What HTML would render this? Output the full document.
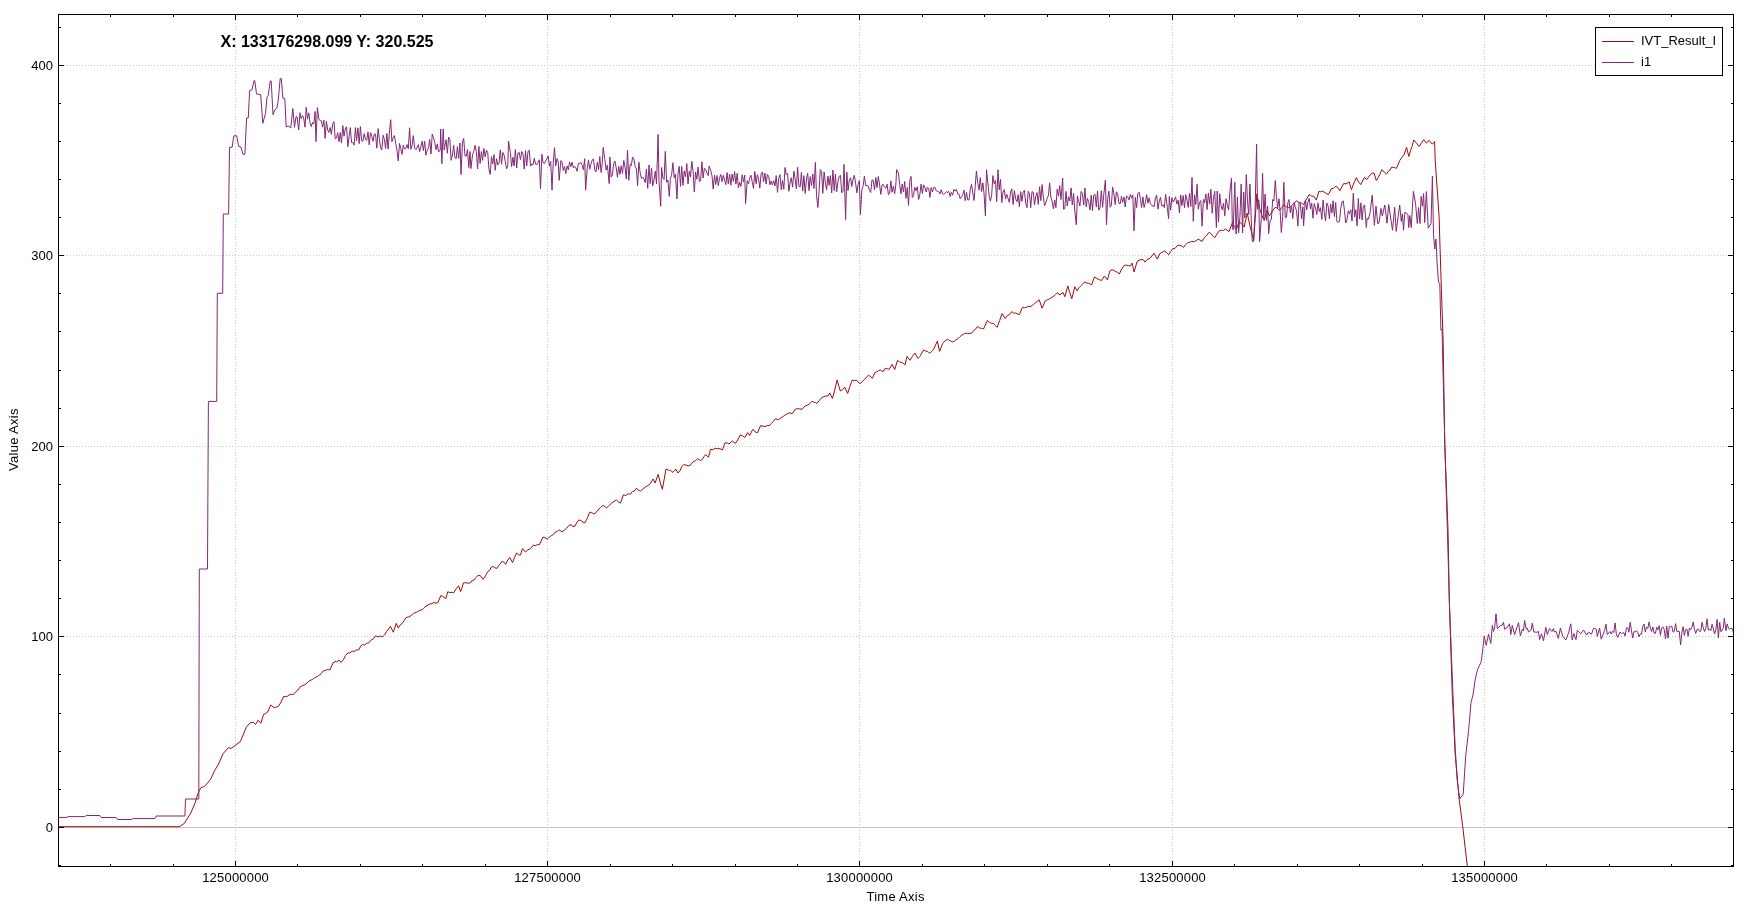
<!DOCTYPE html>
<html><head><meta charset="utf-8"><title>Plot</title>
<style>html,body{margin:0;padding:0;background:#fff;width:1748px;height:910px;overflow:hidden}</style>
</head><body>
<svg width="1748" height="910" viewBox="0 0 1748 910" style="position:absolute;left:0;top:0;will-change:transform">
<defs><clipPath id="c"><rect x="58" y="14" width="1676" height="853"/></clipPath></defs>
<path d="M235.5 867 V14 M547.5 867 V14 M859.5 867 V14 M1172.5 867 V14 M1484.5 867 V14" stroke="#c8c8c8" stroke-width="1" stroke-dasharray="1 2" fill="none" shape-rendering="crispEdges"/>
<path d="M58 636.5 H1734 M58 446.5 H1734 M58 255.5 H1734 M58 65.5 H1734" stroke="#c8c8c8" stroke-width="1" stroke-dasharray="1 2" fill="none" shape-rendering="crispEdges"/>
<path d="M58 827.5 H1734" stroke="#c8c8c8" stroke-width="1" fill="none" shape-rendering="crispEdges"/>
<g clip-path="url(#c)" fill="none" stroke-width="1" stroke-linejoin="miter" stroke-miterlimit="2">
<path d="M56.0 826.7 L179.0 826.7 L180.3 826.1 L184.2 823.5 L190.8 812.9 L194.8 803.7 L198.1 793.1 L200.7 787.9 L204.7 786.3 L210.6 779.3 L214.6 770.7 L218.5 764.1 L223.2 753.5 L228.4 747.6 L231.1 748.5 L235.7 745.0 L240.3 741.7 L246.3 727.2 L250.2 722.8 L253.5 722.5 L255.5 724.5 L258.1 720.3 L260.8 723.2 L263.7 714.3 L265.7 713.4 L267.7 712.0 L270.7 705.0 L273.6 707.4 L275.3 707.4 L276.9 707.0 L278.6 706.0 L281.1 702.0 L283.5 696.5 L285.2 696.6 L286.8 696.6 L288.5 695.5 L290.9 694.2 L293.4 694.5 L295.7 691.8 L298.0 690.0 L300.3 686.6 L302.6 685.6 L305.0 684.7 L307.3 682.7 L309.8 680.5 L312.2 679.6 L314.7 677.7 L317.2 676.7 L319.2 675.2 L321.1 673.7 L323.1 671.1 L325.1 670.4 L327.6 669.6 L330.0 669.8 L333.0 662.9 L335.0 661.5 L336.9 661.7 L338.9 660.0 L341.0 662.5 L343.3 659.8 L345.5 655.6 L347.8 653.0 L350.0 652.9 L352.2 651.1 L354.3 651.4 L356.5 649.9 L358.7 650.0 L360.7 646.0 L362.7 644.4 L364.6 645.2 L366.6 643.3 L368.6 643.1 L370.9 640.2 L373.2 639.1 L375.5 635.8 L377.8 636.8 L380.2 636.1 L382.5 636.8 L384.5 635.0 L386.4 631.6 L388.4 629.2 L390.4 626.3 L393.3 632.2 L396.3 623.3 L398.3 628.0 L400.3 624.8 L402.2 623.5 L404.2 620.4 L406.2 617.4 L408.7 617.0 L411.1 615.6 L413.6 613.3 L416.1 612.4 L418.1 611.3 L420.0 610.1 L422.0 609.9 L424.0 607.8 L426.0 606.1 L428.0 605.0 L430.0 603.9 L432.0 603.7 L433.9 602.3 L435.9 603.2 L437.9 602.5 L440.8 595.6 L442.5 596.3 L444.1 597.3 L445.8 598.6 L447.8 591.7 L449.8 592.6 L451.8 592.3 L453.8 592.6 L456.2 588.8 L458.6 585.7 L460.6 591.7 L463.6 582.8 L465.9 582.8 L468.2 583.2 L470.5 582.8 L472.2 580.3 L473.8 580.3 L475.5 577.8 L477.8 575.7 L480.0 575.3 L483.0 579.3 L485.4 575.8 L487.9 571.4 L489.6 570.4 L491.2 567.2 L492.9 566.4 L494.9 567.9 L496.8 568.4 L498.5 565.9 L500.1 563.9 L501.8 561.5 L503.8 562.1 L505.7 564.4 L507.7 560.1 L509.7 557.5 L512.6 562.5 L514.6 557.2 L516.6 553.0 L518.5 554.8 L520.5 555.0 L522.5 548.6 L525.5 552.2 L527.5 549.9 L529.5 549.1 L531.4 547.6 L533.4 545.0 L535.4 545.7 L537.4 544.5 L539.4 544.7 L542.9 537.1 L545.1 537.8 L547.3 539.1 L549.2 537.4 L551.2 535.7 L553.2 534.7 L555.2 532.0 L557.1 531.7 L559.1 529.8 L562.0 531.8 L564.3 530.2 L566.7 528.1 L569.0 525.3 L571.0 524.7 L573.0 526.6 L575.0 526.0 L577.0 522.2 L578.9 519.9 L580.9 520.6 L582.9 522.1 L584.9 522.9 L587.3 518.2 L589.8 512.0 L591.8 512.7 L593.8 514.0 L596.0 512.6 L598.2 509.8 L600.5 507.3 L602.7 505.5 L604.7 506.4 L606.6 508.0 L609.1 505.4 L611.5 503.3 L614.0 501.4 L616.5 500.1 L618.5 501.9 L620.5 503.1 L623.4 494.8 L625.7 495.5 L628.1 493.8 L630.4 494.2 L632.4 491.4 L634.3 491.1 L636.3 488.3 L638.3 489.8 L640.3 491.2 L642.8 489.2 L645.2 487.0 L647.7 485.7 L650.2 483.7 L653.1 479.0 L655.1 483.0 L658.1 474.4 L660.2 482.4 L662.4 489.3 L664.2 479.1 L666.0 469.1 L668.3 470.1 L670.6 470.5 L672.9 472.4 L675.9 469.1 L677.9 473.0 L679.9 470.9 L681.8 466.5 L683.8 464.5 L686.2 465.2 L688.7 465.9 L690.9 464.7 L693.2 461.6 L695.4 460.8 L697.6 458.6 L700.6 460.6 L702.3 459.4 L703.9 456.8 L705.6 454.6 L708.5 457.2 L710.5 449.3 L712.9 449.7 L715.2 448.3 L717.6 448.7 L720.0 448.7 L722.4 450.0 L725.0 442.9 L727.0 442.8 L729.0 444.0 L732.3 440.9 L735.4 443.5 L737.8 439.8 L740.2 434.9 L742.5 435.8 L744.7 437.5 L747.7 432.6 L749.7 435.5 L752.6 429.6 L754.3 430.5 L755.9 432.5 L757.6 432.6 L760.6 425.6 L762.8 426.2 L765.0 426.5 L767.3 425.5 L769.5 425.6 L771.5 423.3 L773.4 421.4 L775.4 418.7 L778.4 419.7 L780.8 418.0 L783.3 416.3 L785.3 414.8 L787.3 413.8 L789.3 412.8 L792.2 413.8 L795.2 409.2 L797.5 408.6 L799.8 409.0 L802.1 409.2 L805.1 405.9 L807.4 405.2 L809.7 403.7 L812.0 401.3 L813.7 402.2 L815.3 402.6 L817.0 403.3 L819.0 400.9 L820.9 398.4 L822.9 397.0 L825.3 396.1 L827.8 396.0 L829.8 393.0 L832.4 398.5 L834.8 389.8 L837.1 380.1 L840.3 391.0 L842.5 389.7 L844.7 387.1 L847.6 393.4 L849.9 386.5 L852.2 380.1 L854.4 380.6 L856.5 380.1 L858.3 382.3 L860.1 383.5 L862.2 381.8 L864.2 379.6 L866.3 377.7 L868.4 375.2 L870.4 376.5 L872.4 378.2 L875.3 372.2 L877.0 371.9 L878.6 370.5 L880.3 370.2 L883.2 371.6 L885.2 368.3 L887.2 368.8 L889.2 369.3 L892.1 364.3 L894.7 369.6 L897.5 360.3 L899.3 361.7 L901.2 362.4 L903.0 362.9 L905.0 364.9 L907.0 356.4 L910.0 360.3 L912.5 356.3 L914.9 353.0 L917.9 358.4 L919.9 356.4 L921.8 353.0 L923.8 349.9 L925.8 351.2 L927.7 351.4 L929.7 353.4 L931.7 351.3 L933.7 349.1 L937.3 341.2 L939.6 351.4 L942.6 343.5 L945.0 340.9 L947.5 339.2 L949.2 340.4 L950.8 341.0 L952.5 342.0 L954.4 341.2 L956.2 339.6 L958.1 338.5 L960.0 336.6 L961.7 335.1 L963.3 334.5 L965.0 333.0 L967.3 333.4 L969.6 333.6 L971.9 333.0 L973.7 330.5 L975.6 329.2 L977.4 326.4 L979.5 327.9 L981.6 328.3 L983.7 328.8 L987.3 320.5 L989.4 322.4 L991.5 323.3 L993.6 323.5 L995.4 325.5 L997.2 327.4 L999.6 320.6 L1002.0 313.6 L1005.1 318.5 L1007.3 315.6 L1009.6 314.5 L1011.8 311.6 L1013.7 313.1 L1015.6 313.0 L1017.5 314.1 L1019.4 314.5 L1022.3 307.6 L1024.3 307.7 L1026.2 307.5 L1028.2 306.3 L1030.2 306.6 L1032.4 305.4 L1034.7 303.3 L1036.9 301.7 L1039.1 299.7 L1042.1 308.2 L1045.1 301.1 L1047.4 299.7 L1049.7 298.8 L1052.0 297.3 L1053.7 296.3 L1055.3 294.5 L1057.0 292.8 L1059.9 294.8 L1062.9 292.4 L1064.9 296.7 L1067.8 285.9 L1069.8 292.7 L1071.8 298.7 L1074.8 286.8 L1077.1 290.8 L1079.0 287.7 L1080.9 285.7 L1082.8 284.0 L1084.7 281.9 L1087.0 283.2 L1089.3 283.4 L1091.6 284.9 L1094.5 277.0 L1096.8 278.5 L1099.2 279.6 L1101.5 280.5 L1104.4 276.0 L1107.4 279.9 L1110.0 270.6 L1112.2 269.8 L1114.3 270.6 L1116.0 271.7 L1117.6 272.4 L1119.3 274.0 L1121.8 268.9 L1124.2 265.5 L1126.2 265.0 L1128.2 265.6 L1130.2 266.1 L1132.1 263.1 L1134.1 272.0 L1137.1 261.5 L1139.1 260.3 L1141.0 259.6 L1143.0 259.5 L1145.0 262.1 L1147.0 259.6 L1149.0 258.8 L1151.0 257.2 L1153.9 253.2 L1157.3 259.1 L1159.8 253.6 L1161.5 252.5 L1163.1 251.9 L1164.8 250.8 L1166.8 253.0 L1168.7 254.8 L1170.7 251.4 L1172.7 248.9 L1175.0 248.4 L1177.3 245.6 L1179.6 245.3 L1181.6 246.1 L1183.6 247.3 L1185.5 244.7 L1187.5 242.9 L1189.5 242.3 L1191.5 241.4 L1193.5 241.7 L1195.8 241.0 L1198.1 239.2 L1200.0 240.1 L1202.0 241.5 L1204.3 237.6 L1206.6 235.6 L1208.9 232.4 L1210.8 233.4 L1212.8 236.0 L1214.7 237.7 L1217.0 234.0 L1219.3 230.8 L1221.4 230.3 L1223.6 230.4 L1225.7 229.0 L1229.1 231.6 L1232.5 222.5 L1234.4 226.6 L1236.3 229.6 L1239.3 221.5 L1241.8 224.1 L1244.2 227.0 L1247.2 213.1 L1250.4 227.8 L1253.7 240.5 L1256.9 193.8 L1260.0 209.9 L1262.1 215.8 L1264.2 220.5 L1267.1 210.0 L1269.3 215.8 L1271.2 213.3 L1273.1 210.0 L1275.0 207.5 L1276.7 207.7 L1278.3 209.3 L1280.0 210.0 L1282.0 207.4 L1283.9 204.5 L1286.3 206.9 L1288.8 207.7 L1290.8 206.8 L1292.8 204.4 L1294.8 202.3 L1296.8 200.8 L1299.1 202.9 L1301.3 202.7 L1303.6 205.0 L1305.4 200.8 L1307.2 198.2 L1309.0 194.6 L1311.5 196.2 L1313.7 196.2 L1316.3 200.0 L1318.9 191.4 L1320.6 191.8 L1322.3 191.2 L1324.0 192.0 L1326.2 193.5 L1328.4 194.5 L1331.6 188.4 L1333.3 188.4 L1334.9 186.8 L1336.6 186.3 L1339.9 190.7 L1341.8 186.9 L1343.8 183.4 L1346.0 184.0 L1349.2 181.9 L1351.4 189.6 L1353.1 185.1 L1354.7 181.2 L1356.4 177.6 L1358.6 182.0 L1360.8 184.6 L1364.2 177.6 L1366.8 179.5 L1369.2 176.2 L1371.6 173.3 L1374.0 173.0 L1376.3 180.5 L1378.1 177.7 L1380.0 174.0 L1381.8 169.6 L1384.2 172.0 L1386.6 174.0 L1388.3 171.2 L1390.0 170.2 L1391.7 167.0 L1394.1 167.6 L1396.5 168.2 L1399.9 160.2 L1402.0 157.2 L1404.1 154.6 L1406.6 147.4 L1408.8 156.5 L1410.5 150.6 L1412.1 146.3 L1413.8 139.9 L1415.6 142.1 L1417.3 144.0 L1419.1 146.6 L1421.4 143.1 L1423.7 139.6 L1426.4 143.2 L1429.0 140.3 L1432.3 144.2 L1434.6 141.6 L1435.2 160.0 L1439.2 218.2 L1439.8 240.0 L1441.4 289.5 L1443.1 340.0 L1444.8 444.5 L1448.0 530.0 L1449.3 600.0 L1452.3 695.0 L1455.2 754.3 L1459.1 798.8 L1462.6 825.5 L1467.1 864.0 L1469.5 890.0" stroke="#a00a0a"/>
<path d="M56.0 817.4 L67.0 817.4 L68.0 816.6 L84.8 816.6 L86.3 815.5 L99.7 815.5 L101.2 817.5 L116.2 817.5 L117.7 819.5 L131.6 819.5 L133.0 818.6 L154.8 818.6 L156.3 816.0 L184.9 816.0 L185.5 799.0 L198.8 799.0 L199.3 569.0 L207.5 569.0 L208.4 401.4 L216.7 401.4 L217.3 293.3 L222.7 293.3 L223.3 214.0 L228.6 214.0 L229.5 147.3 L232.1 147.3 L233.8 135.8 L236.7 135.8 L238.7 146.4 L240.9 147.0 L243.0 154.3 L244.9 154.3 L246.6 118.0 L248.3 117.8 L249.6 90.6 L251.9 90.1 L254.1 80.4 L254.9 81.0 L256.5 94.0 L260.7 94.6 L262.8 123.3 L265.5 113.4 L267.0 97.0 L268.1 95.6 L270.3 80.8 L271.2 81.0 L273.0 114.7 L274.9 109.8 L276.9 108.1 L278.2 100.9 L280.2 78.5 L281.3 78.7 L282.9 98.2 L284.8 98.5 L286.2 127.0 L288.1 126.0 L290.8 127.9 L292.8 108.5 L294.5 127.3 L296.0 116.7 L297.1 117.0 L298.7 129.9 L300.0 112.7 L301.2 118.7 L302.5 115.6 L303.7 118.1 L305.0 127.2 L306.2 107.4 L307.5 119.1 L308.8 112.9 L310.0 123.1 L311.3 126.6 L312.5 122.5 L313.8 124.0 L315.1 111.5 L316.0 141.6 L317.4 107.6 L318.8 118.8 L320.1 120.7 L321.4 120.9 L322.6 127.1 L323.9 120.2 L325.1 138.4 L326.4 121.3 L327.7 130.0 L328.9 132.4 L330.2 127.5 L331.4 134.3 L332.7 124.1 L334.0 121.7 L335.2 138.8 L336.5 138.0 L337.7 132.6 L339.0 141.7 L340.3 132.5 L341.5 143.1 L342.8 125.6 L344.0 136.2 L345.3 129.0 L346.6 126.7 L347.8 146.7 L349.1 136.8 L350.3 127.5 L351.6 142.7 L352.9 142.4 L354.1 145.2 L355.4 127.5 L356.6 140.6 L357.9 127.8 L359.2 143.6 L360.4 126.6 L361.7 140.9 L362.9 141.3 L364.2 133.6 L365.5 139.3 L366.7 140.6 L368.0 131.9 L369.2 144.9 L370.5 132.6 L371.8 136.0 L373.0 141.3 L374.3 134.1 L375.5 134.1 L376.8 148.2 L378.1 128.6 L379.3 138.5 L380.6 147.6 L381.8 149.9 L383.1 135.2 L384.4 139.3 L385.6 148.4 L386.9 133.4 L388.1 149.1 L389.4 133.2 L390.7 119.7 L391.9 141.8 L393.2 137.8 L394.4 135.5 L395.7 143.2 L397.0 150.4 L398.2 160.9 L399.5 143.4 L400.7 148.4 L402.0 154.4 L403.3 145.2 L404.5 149.0 L405.8 148.4 L407.0 144.5 L408.3 148.7 L409.6 127.8 L410.8 149.3 L412.1 145.5 L413.3 135.6 L414.6 148.1 L415.9 149.6 L417.1 147.3 L418.4 144.6 L419.6 151.6 L420.9 146.7 L422.2 141.1 L423.4 150.6 L424.7 141.4 L425.9 155.3 L427.2 150.4 L428.5 147.9 L429.7 139.5 L431.0 154.0 L432.2 134.1 L433.5 137.7 L434.8 142.6 L436.0 149.7 L437.3 143.9 L438.5 152.0 L440.2 150.0 L440.7 129.0 L441.9 163.7 L443.2 129.0 L444.2 150.0 L446.1 139.7 L447.4 153.2 L448.6 137.1 L449.9 139.8 L451.1 160.3 L452.4 155.0 L453.7 145.4 L454.9 157.7 L456.2 158.6 L457.4 146.5 L458.7 158.4 L460.0 143.0 L461.0 174.6 L462.5 141.7 L463.7 138.4 L465.0 156.1 L466.3 156.0 L467.5 149.5 L468.8 167.6 L470.0 151.5 L470.9 168.6 L472.6 154.4 L473.8 151.4 L475.1 145.4 L476.3 151.4 L477.6 169.0 L478.9 146.4 L480.1 163.5 L481.4 151.6 L482.6 160.4 L483.9 148.4 L485.2 156.9 L486.4 150.4 L487.7 152.3 L488.9 168.9 L490.2 174.4 L491.5 156.6 L492.7 164.0 L494.0 154.5 L495.2 170.3 L496.5 158.7 L497.8 164.9 L499.0 163.1 L500.3 150.0 L501.5 164.2 L502.8 152.4 L504.1 155.2 L505.3 161.7 L506.6 169.0 L507.8 165.5 L508.5 141.0 L510.4 152.8 L511.6 166.7 L512.9 157.2 L514.1 166.0 L515.4 149.6 L516.7 168.0 L517.9 153.0 L519.2 152.4 L520.4 159.6 L521.7 151.6 L523.0 154.0 L524.2 169.1 L525.5 150.7 L526.7 165.9 L528.0 151.4 L529.3 150.2 L530.5 166.2 L531.8 163.9 L533.0 164.8 L534.3 158.2 L535.6 164.3 L536.8 164.8 L538.1 162.6 L539.3 159.8 L540.5 188.6 L541.9 154.3 L543.1 162.7 L544.4 163.5 L545.6 161.0 L546.9 158.6 L548.2 156.1 L549.4 166.3 L550.7 161.4 L552.0 190.2 L553.2 163.7 L554.5 147.7 L555.7 165.9 L557.0 158.6 L558.2 161.7 L559.2 180.3 L560.8 160.6 L562.0 161.7 L563.3 170.4 L564.5 166.5 L565.8 173.6 L567.1 165.9 L568.3 169.8 L569.6 162.0 L570.8 166.6 L572.1 162.1 L573.4 168.0 L574.6 166.3 L575.9 167.9 L577.1 171.3 L578.4 163.5 L579.7 163.5 L580.9 162.5 L582.2 165.2 L583.4 169.7 L584.7 158.7 L585.6 190.2 L587.2 168.5 L588.5 159.9 L589.7 169.2 L591.0 163.8 L592.3 159.7 L593.5 159.2 L594.8 170.1 L596.0 171.8 L597.3 162.1 L598.6 169.5 L599.8 156.5 L601.1 172.5 L602.3 162.7 L603.2 147.4 L604.9 159.4 L606.1 170.0 L607.4 165.2 L609.2 183.6 L609.9 157.0 L611.2 177.1 L612.4 174.9 L613.7 163.8 L614.9 161.0 L616.2 167.9 L617.5 177.3 L618.7 166.4 L620.0 174.3 L621.2 165.8 L622.5 173.4 L623.8 160.5 L625.0 166.9 L626.3 179.0 L627.5 150.2 L628.8 180.2 L630.1 164.5 L631.3 165.5 L632.6 157.1 L633.8 158.5 L635.1 166.4 L636.4 169.0 L637.6 185.6 L638.9 162.2 L640.1 172.2 L641.4 178.4 L642.7 177.1 L643.9 178.9 L645.2 182.6 L646.4 169.2 L647.7 188.3 L649.0 165.0 L650.2 183.7 L651.5 168.2 L652.7 186.0 L654.0 179.9 L655.3 171.2 L656.5 184.0 L658.1 134.4 L659.0 180.9 L660.7 206.2 L661.6 167.5 L662.8 177.9 L664.1 179.5 L665.3 151.4 L666.6 182.3 L667.9 180.0 L669.3 196.4 L670.4 179.3 L671.6 174.8 L672.9 162.7 L674.2 177.7 L675.4 174.0 L677.0 199.0 L677.9 174.4 L679.2 166.4 L680.5 186.4 L681.7 166.4 L683.0 185.4 L684.2 171.1 L685.5 176.8 L686.8 163.5 L688.0 184.0 L689.3 171.2 L690.5 176.9 L691.8 161.3 L693.1 171.5 L694.3 192.1 L695.6 172.0 L696.8 179.2 L698.1 167.1 L699.4 181.5 L700.6 180.9 L701.9 161.8 L703.1 178.0 L704.4 168.1 L705.7 169.6 L706.9 172.9 L708.2 175.6 L709.1 166.1 L710.7 170.3 L712.0 175.7 L713.2 189.1 L714.5 175.3 L715.7 184.5 L717.0 175.4 L718.3 185.8 L719.5 177.9 L720.8 174.5 L722.0 181.7 L723.3 175.3 L724.6 180.0 L725.8 184.7 L727.1 172.6 L728.3 183.8 L729.6 174.2 L730.9 185.2 L732.1 174.1 L733.4 181.4 L734.6 171.6 L735.9 184.1 L737.2 173.3 L738.4 187.8 L739.7 182.3 L740.9 186.4 L742.2 174.8 L743.5 182.1 L744.7 175.1 L745.6 203.6 L747.2 180.6 L748.5 183.9 L749.8 177.8 L751.0 175.1 L752.3 182.4 L753.5 188.4 L754.8 171.5 L756.1 183.7 L757.3 174.7 L758.6 179.0 L759.8 188.1 L761.1 173.8 L762.4 172.0 L763.6 182.0 L764.9 173.0 L766.1 184.0 L767.4 174.5 L768.7 176.5 L769.9 184.9 L771.2 181.1 L772.4 184.9 L773.7 180.7 L775.0 185.9 L776.2 175.6 L777.5 192.3 L778.7 178.3 L780.0 174.6 L781.3 189.8 L782.5 180.5 L783.8 189.4 L785.0 167.5 L786.3 174.7 L787.6 173.6 L788.8 191.3 L790.1 183.0 L791.3 177.7 L792.6 187.1 L793.9 171.2 L795.1 178.8 L796.4 188.7 L797.6 167.2 L798.9 186.3 L800.2 186.8 L801.4 172.5 L802.7 191.0 L803.9 175.6 L805.2 193.5 L806.5 178.5 L807.7 173.3 L809.0 190.7 L810.2 176.5 L811.5 185.8 L812.8 173.9 L814.0 188.5 L815.4 162.4 L816.5 195.2 L817.9 207.5 L819.1 190.6 L820.3 169.6 L821.6 171.6 L822.8 193.3 L824.1 171.9 L825.4 183.1 L826.6 189.8 L827.9 176.1 L829.1 185.4 L830.4 175.6 L831.7 192.9 L832.9 170.1 L834.2 190.7 L835.4 174.3 L836.7 191.9 L838.0 181.3 L839.2 176.3 L840.5 175.3 L841.7 192.8 L843.0 191.2 L844.0 164.3 L845.6 219.6 L846.8 172.0 L848.0 190.5 L849.3 180.3 L850.6 177.8 L851.8 186.6 L853.1 179.0 L854.3 175.3 L855.6 183.1 L856.9 192.9 L858.1 184.3 L859.4 180.6 L860.4 214.6 L861.9 189.8 L863.2 185.6 L864.4 176.2 L865.7 185.8 L866.9 185.4 L868.2 186.1 L869.5 190.3 L870.7 192.5 L872.0 179.9 L873.2 180.4 L874.5 189.9 L875.8 177.5 L877.0 187.5 L878.3 176.5 L879.5 183.9 L880.8 194.4 L882.1 184.8 L883.3 184.6 L884.6 187.3 L885.8 188.4 L887.1 184.1 L888.4 194.7 L889.6 193.5 L890.9 180.9 L892.1 192.3 L893.4 186.2 L894.7 193.6 L895.9 184.0 L896.6 169.7 L898.4 172.9 L899.7 184.8 L901.0 193.8 L902.2 183.9 L903.5 192.1 L904.7 181.4 L906.0 198.3 L907.3 187.5 L908.5 205.4 L909.8 180.9 L911.0 176.4 L912.3 197.5 L913.6 195.5 L914.8 187.4 L916.1 190.7 L917.3 186.8 L918.6 199.6 L919.9 194.2 L921.1 184.1 L922.4 193.5 L923.6 184.9 L924.9 187.2 L926.2 192.0 L927.4 187.4 L928.7 188.2 L929.9 197.4 L931.2 187.5 L932.5 191.9 L933.7 187.3 L935.0 187.4 L936.2 190.8 L937.5 191.4 L938.8 191.8 L940.0 193.9 L941.3 189.6 L942.5 193.7 L943.8 194.4 L945.1 192.9 L946.3 191.6 L947.6 192.6 L948.8 191.3 L950.1 196.5 L951.4 192.3 L952.6 195.2 L953.9 189.4 L955.1 191.2 L956.4 189.4 L957.7 193.8 L958.9 194.0 L960.2 198.8 L961.4 196.8 L962.7 194.8 L964.0 190.1 L965.2 200.8 L966.5 192.3 L967.7 199.8 L969.0 200.0 L970.3 189.0 L971.5 184.2 L972.8 193.0 L974.0 200.5 L975.3 185.2 L976.4 171.0 L977.8 183.6 L979.1 190.2 L980.3 177.6 L981.6 191.6 L982.9 182.9 L984.1 194.4 L985.4 215.8 L986.5 169.7 L987.9 183.1 L989.2 196.2 L990.4 201.1 L991.7 194.8 L992.9 175.6 L994.2 183.8 L995.5 180.5 L996.7 201.6 L998.0 169.8 L999.2 189.7 L1000.5 179.4 L1001.8 202.5 L1003.0 192.2 L1004.3 189.6 L1005.5 199.1 L1006.8 194.3 L1008.1 198.6 L1009.3 202.3 L1010.6 192.1 L1011.8 188.8 L1013.1 204.5 L1014.4 190.6 L1015.6 198.7 L1016.9 201.8 L1018.1 194.6 L1019.4 206.6 L1020.7 191.7 L1021.9 201.4 L1023.2 192.2 L1024.4 190.4 L1025.7 203.2 L1027.0 207.7 L1028.2 191.4 L1029.5 193.8 L1030.7 207.7 L1032.0 191.6 L1033.3 192.4 L1034.5 204.9 L1035.8 196.3 L1037.0 192.6 L1038.3 204.4 L1039.6 186.7 L1040.8 200.7 L1042.1 184.6 L1043.3 196.9 L1044.6 205.8 L1045.9 202.3 L1047.1 198.5 L1048.4 195.6 L1049.6 182.9 L1050.9 197.3 L1052.2 202.0 L1053.4 208.8 L1054.7 199.9 L1055.9 207.7 L1057.2 189.2 L1058.5 196.2 L1059.7 185.7 L1061.0 199.6 L1062.7 178.2 L1063.5 209.2 L1064.8 208.7 L1066.0 191.4 L1067.3 206.0 L1068.5 196.8 L1069.8 201.0 L1071.1 187.9 L1072.3 205.0 L1073.6 193.5 L1074.8 211.0 L1076.3 224.7 L1077.4 195.9 L1078.6 201.3 L1079.9 205.9 L1081.1 191.4 L1082.4 193.7 L1083.7 205.1 L1084.9 188.0 L1086.2 207.0 L1087.4 198.4 L1088.7 201.7 L1090.0 210.0 L1091.2 195.2 L1092.5 210.6 L1093.7 195.2 L1095.0 194.3 L1096.3 207.1 L1097.5 190.9 L1098.8 210.2 L1100.0 207.6 L1101.3 190.7 L1102.6 207.4 L1103.8 194.1 L1105.4 180.2 L1106.5 224.7 L1107.6 199.3 L1108.9 191.1 L1110.1 207.2 L1111.4 205.0 L1112.6 187.0 L1113.9 193.6 L1115.2 204.6 L1116.4 191.8 L1117.7 193.9 L1118.9 203.3 L1120.2 203.7 L1121.5 196.4 L1122.7 202.4 L1124.0 196.9 L1125.2 206.9 L1126.5 195.9 L1127.8 197.1 L1129.0 199.9 L1130.3 194.5 L1131.5 198.2 L1132.8 194.9 L1134.0 230.8 L1135.3 197.4 L1136.6 207.7 L1137.8 193.9 L1139.1 192.2 L1140.4 198.6 L1141.6 207.6 L1142.9 196.9 L1144.1 207.5 L1145.4 202.3 L1146.7 194.8 L1147.9 203.2 L1149.2 197.8 L1150.4 203.8 L1151.7 205.4 L1153.0 205.8 L1154.2 206.7 L1155.5 197.3 L1156.7 195.2 L1158.0 209.2 L1159.3 200.9 L1160.5 197.4 L1161.8 206.1 L1163.0 204.8 L1164.3 207.6 L1165.6 194.3 L1166.8 203.1 L1168.6 218.7 L1169.3 196.5 L1170.6 210.2 L1171.9 197.7 L1173.1 202.0 L1174.4 199.9 L1175.6 196.8 L1176.9 204.1 L1178.2 200.1 L1179.4 212.8 L1180.7 194.9 L1181.9 205.7 L1183.2 195.5 L1184.5 207.8 L1185.7 194.6 L1187.0 200.2 L1188.2 207.4 L1189.5 193.2 L1190.8 206.5 L1192.0 177.4 L1193.3 221.4 L1194.5 194.8 L1195.8 204.5 L1197.1 184.3 L1198.3 209.2 L1199.6 202.4 L1200.8 200.5 L1202.1 226.2 L1203.4 199.3 L1204.6 203.1 L1205.9 193.9 L1207.1 209.6 L1208.4 192.9 L1209.7 204.2 L1210.9 189.3 L1212.2 213.3 L1213.4 199.1 L1214.7 191.3 L1216.4 227.5 L1217.2 191.0 L1218.5 222.1 L1219.7 193.7 L1221.0 205.3 L1222.3 209.8 L1223.5 203.1 L1224.8 215.8 L1226.0 198.6 L1227.3 205.2 L1228.6 209.8 L1229.8 193.0 L1231.5 178.0 L1232.3 224.7 L1233.2 230.0 L1234.8 182.3 L1236.1 234.0 L1237.4 197.1 L1238.6 233.1 L1239.9 217.3 L1241.2 183.9 L1242.6 233.0 L1243.7 192.0 L1244.9 217.7 L1246.3 174.5 L1247.5 201.4 L1248.7 214.5 L1249.9 184.0 L1251.2 218.2 L1252.3 241.6 L1253.5 241.5 L1255.0 213.6 L1256.6 144.2 L1257.5 209.3 L1258.8 200.1 L1259.6 241.6 L1261.3 218.1 L1262.6 173.3 L1263.8 218.5 L1265.1 194.1 L1266.4 220.4 L1267.6 206.1 L1268.6 233.7 L1270.1 220.4 L1271.4 219.6 L1272.7 199.5 L1273.9 201.0 L1275.3 180.5 L1276.4 196.4 L1277.7 207.9 L1279.0 198.7 L1280.2 212.0 L1281.3 232.5 L1282.7 216.5 L1283.8 182.3 L1285.3 217.9 L1286.5 217.2 L1287.8 203.0 L1289.0 199.5 L1290.3 212.7 L1291.6 206.0 L1292.8 218.5 L1294.1 202.6 L1295.3 207.2 L1296.6 211.0 L1297.9 226.2 L1299.1 202.9 L1300.4 203.5 L1301.6 218.8 L1302.9 206.7 L1303.6 225.8 L1305.4 199.9 L1306.7 210.0 L1307.9 202.1 L1309.2 198.4 L1310.5 208.9 L1311.7 203.2 L1313.0 218.2 L1314.2 203.6 L1315.5 207.4 L1316.8 214.5 L1318.0 202.8 L1319.3 211.5 L1320.5 207.7 L1321.8 219.4 L1323.1 200.1 L1324.3 212.5 L1325.6 220.8 L1326.8 203.0 L1328.1 206.1 L1329.4 218.7 L1330.6 204.0 L1331.9 213.0 L1333.1 200.7 L1334.4 216.6 L1335.7 202.5 L1336.9 221.8 L1338.2 222.3 L1339.4 221.8 L1340.7 208.8 L1342.0 202.0 L1343.2 200.8 L1344.5 210.7 L1345.7 223.0 L1347.0 219.5 L1348.3 210.8 L1349.5 213.7 L1350.8 209.8 L1352.0 221.1 L1353.3 193.2 L1354.6 216.9 L1355.8 209.8 L1357.1 225.8 L1358.3 198.6 L1359.6 219.0 L1360.9 202.8 L1362.1 220.0 L1363.4 206.0 L1364.6 205.0 L1366.3 227.5 L1367.2 218.3 L1368.4 219.2 L1370.0 212.7 L1372.2 195.2 L1374.4 225.4 L1376.0 206.2 L1377.7 223.7 L1379.0 223.0 L1381.0 208.4 L1382.3 216.0 L1384.8 205.0 L1387.0 223.2 L1388.7 204.5 L1392.5 230.3 L1394.7 207.3 L1396.2 231.4 L1399.7 205.0 L1401.3 221.5 L1402.4 213.8 L1403.5 230.3 L1404.9 212.2 L1407.9 214.4 L1408.7 227.6 L1409.8 215.5 L1411.2 227.6 L1413.4 191.3 L1415.6 204.0 L1417.3 223.5 L1418.6 207.5 L1420.0 223.5 L1421.1 196.3 L1422.5 206.2 L1423.6 193.5 L1424.7 222.6 L1426.4 191.6 L1428.2 228.1 L1431.0 223.7 L1432.4 176.3 L1433.5 234.7 L1434.8 249.0 L1435.9 239.1 L1436.6 251.2 L1437.0 262.0 L1438.5 282.3 L1439.8 284.0 L1440.9 330.1 L1442.0 329.0 L1444.8 444.5 L1447.4 530.0 L1449.3 600.0 L1453.1 698.0 L1455.2 748.4 L1457.3 781.0 L1459.7 798.8 L1463.2 794.4 L1465.6 757.3 L1468.6 730.6 L1471.0 702.4 L1473.0 695.0 L1475.1 680.1 L1477.5 669.7 L1481.0 662.3 L1482.5 652.0 L1484.2 636.2 L1485.0 640.0 L1486.2 645.4 L1488.5 634.2 L1490.8 643.5 L1492.3 625.4 L1493.5 631.5 L1494.6 628.0 L1496.0 613.8 L1497.3 628.5 L1500.8 625.4 L1502.0 625.4 L1503.5 622.3 L1504.6 629.2 L1507.0 627.8 L1509.6 623.8 L1510.8 634.6 L1512.3 625.4 L1514.6 634.6 L1518.5 622.7 L1520.4 635.8 L1522.5 629.0 L1523.5 631.0 L1524.6 620.4 L1526.2 629.2 L1527.2 628.0 L1528.5 631.9 L1531.0 630.0 L1532.3 623.1 L1533.8 631.9 L1537.0 632.3 L1538.4 631.3 L1539.6 639.6 L1541.5 633.8 L1543.5 640.8 L1545.8 627.3 L1547.3 634.6 L1549.6 628.5 L1551.9 631.5 L1553.5 628.5 L1554.2 631.9 L1556.2 631.5 L1558.3 638.5 L1560.4 628.1 L1562.7 636.2 L1565.8 640.0 L1568.5 633.1 L1570.8 623.8 L1572.2 640.0 L1573.8 633.5 L1576.0 639.6 L1577.3 630.4 L1580.8 633.8 L1583.5 630.0 L1586.5 635.0 L1588.5 632.2 L1591.5 634.2 L1593.5 628.3 L1596.2 629.2 L1597.3 636.5 L1599.6 628.1 L1601.2 639.2 L1604.6 630.4 L1606.0 624.2 L1607.3 634.6 L1610.0 631.5 L1611.3 634.1 L1612.6 631.2 L1613.8 632.5 L1615.1 622.9 L1616.3 633.6 L1617.6 637.4 L1618.9 634.6 L1620.1 632.0 L1621.4 633.4 L1622.6 633.1 L1623.9 632.7 L1625.2 636.1 L1626.4 627.8 L1627.7 627.8 L1628.9 632.2 L1630.2 622.3 L1631.5 630.9 L1632.7 638.0 L1634.0 631.5 L1635.2 631.9 L1636.5 630.6 L1637.8 632.7 L1639.0 636.8 L1640.3 633.9 L1641.5 634.3 L1642.8 626.2 L1644.1 624.1 L1645.3 631.9 L1646.6 627.0 L1647.8 628.4 L1649.1 621.9 L1650.4 628.0 L1651.6 631.6 L1652.9 627.0 L1654.1 633.0 L1655.4 633.5 L1656.7 627.3 L1657.9 629.8 L1659.2 625.6 L1660.4 635.4 L1661.7 628.0 L1663.0 626.9 L1664.2 629.4 L1665.5 638.9 L1666.7 625.9 L1668.0 638.2 L1669.3 626.6 L1670.5 626.7 L1671.8 626.2 L1673.0 632.1 L1674.3 631.3 L1675.6 623.6 L1676.8 631.4 L1678.1 631.4 L1679.3 631.3 L1680.6 645.0 L1681.9 632.4 L1683.1 626.7 L1684.4 635.4 L1685.6 629.6 L1686.9 629.0 L1688.2 636.3 L1689.4 628.1 L1690.7 629.6 L1691.9 627.2 L1693.2 622.0 L1694.5 629.3 L1695.7 633.5 L1697.0 629.4 L1698.2 629.1 L1699.5 631.3 L1700.8 631.2 L1702.0 622.2 L1703.3 627.5 L1704.5 631.6 L1705.8 628.4 L1707.1 618.9 L1708.3 630.2 L1709.6 628.8 L1710.8 630.6 L1712.1 624.3 L1713.4 629.0 L1714.6 633.9 L1715.9 629.4 L1717.1 619.4 L1718.4 637.9 L1719.7 622.2 L1720.9 631.8 L1722.2 630.0 L1723.4 627.6 L1724.3 618.2 L1726.0 630.7 L1727.2 623.9 L1728.5 628.4 L1729.7 629.1 L1731.0 628.2 L1732.3 628.7 L1733.5 632.9 L1734.8 639.2" stroke="#802874"/>
</g>
<path d="M58 14.5 H1734 M58 866.5 H1734 M58.5 14 V867 M1733.5 14 V867 M235.5 866 v-5 M235.5 15 v5 M547.5 866 v-5 M547.5 15 v5 M859.5 866 v-5 M859.5 15 v5 M1172.5 866 v-5 M1172.5 15 v5 M1484.5 866 v-5 M1484.5 15 v5 M110.5 866 v-2 M110.5 15 v2 M173.5 866 v-2 M173.5 15 v2 M297.5 866 v-2 M297.5 15 v2 M360.5 866 v-2 M360.5 15 v2 M422.5 866 v-2 M422.5 15 v2 M485.5 866 v-2 M485.5 15 v2 M610.5 866 v-2 M610.5 15 v2 M672.5 866 v-2 M672.5 15 v2 M735.5 866 v-2 M735.5 15 v2 M797.5 866 v-2 M797.5 15 v2 M922.5 866 v-2 M922.5 15 v2 M984.5 866 v-2 M984.5 15 v2 M1047.5 866 v-2 M1047.5 15 v2 M1109.5 866 v-2 M1109.5 15 v2 M1234.5 866 v-2 M1234.5 15 v2 M1297.5 866 v-2 M1297.5 15 v2 M1359.5 866 v-2 M1359.5 15 v2 M1422.5 866 v-2 M1422.5 15 v2 M1546.5 866 v-2 M1546.5 15 v2 M1609.5 866 v-2 M1609.5 15 v2 M1671.5 866 v-2 M1671.5 15 v2 M59 827.5 h5 M1733 827.5 h-5 M59 636.5 h5 M1733 636.5 h-5 M59 446.5 h5 M1733 446.5 h-5 M59 255.5 h5 M1733 255.5 h-5 M59 65.5 h5 M1733 65.5 h-5 M59 865.5 h2 M1733 865.5 h-2 M59 789.5 h2 M1733 789.5 h-2 M59 751.5 h2 M1733 751.5 h-2 M59 713.5 h2 M1733 713.5 h-2 M59 674.5 h2 M1733 674.5 h-2 M59 598.5 h2 M1733 598.5 h-2 M59 560.5 h2 M1733 560.5 h-2 M59 522.5 h2 M1733 522.5 h-2 M59 484.5 h2 M1733 484.5 h-2 M59 408.5 h2 M1733 408.5 h-2 M59 370.5 h2 M1733 370.5 h-2 M59 331.5 h2 M1733 331.5 h-2 M59 293.5 h2 M1733 293.5 h-2 M59 217.5 h2 M1733 217.5 h-2 M59 179.5 h2 M1733 179.5 h-2 M59 141.5 h2 M1733 141.5 h-2 M59 103.5 h2 M1733 103.5 h-2 M59 27.5 h2 M1733 27.5 h-2" stroke="#000" stroke-width="1" fill="none" shape-rendering="crispEdges"/>
<rect x="1595.5" y="27.5" width="127" height="48" fill="#fff" stroke="#000" stroke-width="1" shape-rendering="crispEdges"/>
<path d="M1602 41.5 H1634" stroke="#a00a0a" stroke-width="1" shape-rendering="crispEdges"/>
<path d="M1602 62.5 H1634" stroke="#802874" stroke-width="1" shape-rendering="crispEdges"/>
<text x="53" y="832" style="font-family:'Liberation Sans',Arial,sans-serif;font-size:13px;font-weight:normal" text-anchor="end">0</text>
<text x="53" y="641" style="font-family:'Liberation Sans',Arial,sans-serif;font-size:13px;font-weight:normal" text-anchor="end">100</text>
<text x="53" y="451" style="font-family:'Liberation Sans',Arial,sans-serif;font-size:13px;font-weight:normal" text-anchor="end">200</text>
<text x="53" y="260" style="font-family:'Liberation Sans',Arial,sans-serif;font-size:13px;font-weight:normal" text-anchor="end">300</text>
<text x="53" y="70" style="font-family:'Liberation Sans',Arial,sans-serif;font-size:13px;font-weight:normal" text-anchor="end">400</text>
<text x="235.6" y="882" style="font-family:'Liberation Sans',Arial,sans-serif;font-size:13px;font-weight:normal" text-anchor="middle" letter-spacing="0.2">125000000</text>
<text x="547.6" y="882" style="font-family:'Liberation Sans',Arial,sans-serif;font-size:13px;font-weight:normal" text-anchor="middle" letter-spacing="0.2">127500000</text>
<text x="859.6" y="882" style="font-family:'Liberation Sans',Arial,sans-serif;font-size:13px;font-weight:normal" text-anchor="middle" letter-spacing="0.2">130000000</text>
<text x="1172.6" y="882" style="font-family:'Liberation Sans',Arial,sans-serif;font-size:13px;font-weight:normal" text-anchor="middle" letter-spacing="0.2">132500000</text>
<text x="1484.6" y="882" style="font-family:'Liberation Sans',Arial,sans-serif;font-size:13px;font-weight:normal" text-anchor="middle" letter-spacing="0.2">135000000</text>
<text x="895.6" y="901" style="font-family:'Liberation Sans',Arial,sans-serif;font-size:13px;font-weight:normal" text-anchor="middle" letter-spacing="0.28">Time Axis</text>
<text x="0" y="0" style="font-family:'Liberation Sans',Arial,sans-serif;font-size:13px;font-weight:normal" text-anchor="middle" letter-spacing="0.3" transform="translate(18 439.6) rotate(-90)">Value Axis</text>
<text x="1641" y="45" style="font-family:'Liberation Sans',Arial,sans-serif;font-size:13px;font-weight:normal" text-anchor="start">IVT_Result_I</text>
<text x="1641" y="66" style="font-family:'Liberation Sans',Arial,sans-serif;font-size:13px;font-weight:normal" text-anchor="start">i1</text>
<text x="220.5" y="47" style="font-family:'Liberation Sans',Arial,sans-serif;font-size:16px;font-weight:bold" text-anchor="start">X: 133176298.099 Y: 320.525</text>
</svg>
</body></html>
